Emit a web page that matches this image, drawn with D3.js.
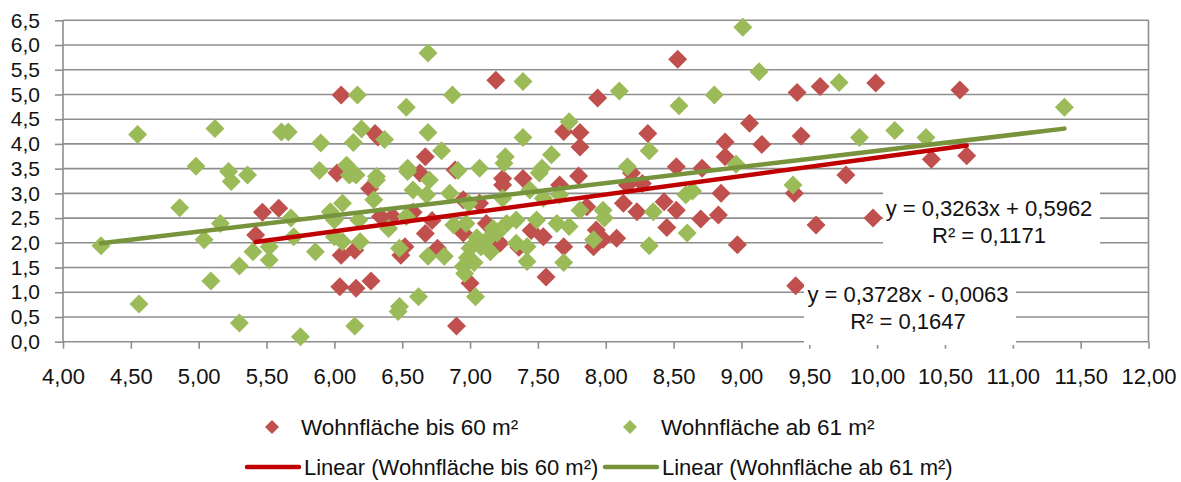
<!DOCTYPE html>
<html><head><meta charset="utf-8">
<script src="https://cdn.jsdelivr.net/npm/d3@7"></script>
<style>
body{margin:0;background:#fff;}
svg text{font-family:"Liberation Sans",Arial,sans-serif;fill:#111;}
</style></head><body>
<svg id="c" width="1181" height="482"></svg>
<script>
// ---------- data ----------
const seriesNames = ["Wohnfläche bis 60 m²", "Wohnfläche ab 61 m²"];
const trendNames = ["Linear (Wohnfläche bis 60 m²)", "Linear (Wohnfläche ab 61 m²)"];
const xTickValues = [4,4.5,5,5.5,6,6.5,7,7.5,8,8.5,9,9.5,10,10.5,11,11.5,12];
const yTickValues = [0,0.5,1,1.5,2,2.5,3,3.5,4,4.5,5,5.5,6,6.5];

const redPoints = [
[5.42,2.16],[5.47,2.62],[5.59,2.70],
[6.04,1.11],[6.05,4.99],[6.02,3.41],[6.05,1.75],[6.15,1.85],[6.16,1.08],[6.27,1.23],
[6.30,4.21],[6.32,4.14],[6.26,3.10],[6.34,2.53],[6.43,2.53],[6.40,2.42],
[6.49,1.75],[6.52,1.92],[6.58,2.62],[6.63,3.41],[6.67,3.74],[6.67,2.19],[6.76,1.89],[6.72,2.45],
[6.89,3.47],[6.90,0.32],[6.95,2.87],[6.95,2.20],[7.00,1.18],[7.07,2.80],[7.12,2.39],[7.22,1.99],
[7.19,5.29],[7.24,3.17],[7.24,3.30],[7.39,3.30],[7.36,1.91],[7.45,2.25],
[7.54,2.12],[7.56,1.31],[7.66,3.17],[7.69,1.92],[7.69,4.25],[7.80,3.35],[7.81,4.23],[7.81,3.94],
[7.86,2.73],[7.91,1.92],[7.93,2.26],[7.94,4.93],
[7.98,2.07],[8.08,2.09],[8.13,2.80],[8.16,3.17],[8.19,3.41],[8.23,2.63],[8.27,3.20],[8.31,4.21],
[8.43,2.83],[8.45,2.31],[8.52,2.66],[8.52,3.54],[8.53,5.71],[8.70,2.48],[8.71,3.51],[8.83,2.56],
[8.85,3.00],[8.88,3.74],[8.88,4.04],[8.97,1.96],[9.06,4.42],[9.15,3.99],[9.39,3.00],[9.40,1.13],
[9.41,5.04],[9.44,4.16],[9.55,2.36],[9.58,5.16],[9.77,3.37],[9.97,2.50],[9.99,5.23],[10.40,3.69],
[10.61,5.09],[10.66,3.76]
];

const greenPoints = [
[4.28,1.94],[4.55,4.19],[4.56,0.76],[4.86,2.71],[4.98,3.55],[5.04,2.06],[5.09,1.23],[5.12,4.31],
[5.16,2.39],[5.22,3.44],[5.24,3.24],[5.30,1.53],[5.30,0.38],[5.36,3.37],[5.40,1.82],[5.52,1.92],
[5.52,1.65],[5.61,4.24],[5.66,4.24],[5.68,2.50],[5.70,2.12],[5.75,0.10],[5.86,1.82],[5.89,3.46],
[5.90,4.02],[5.97,2.63],[6.00,2.12],[6.00,2.46],[6.06,2.80],[6.06,2.02],[6.09,3.57],[6.11,3.37],
[6.13,3.41],[6.14,4.03],[6.15,0.32],[6.16,3.37],[6.17,4.99],[6.18,2.46],[6.19,2.02],[6.20,4.30],
[6.29,2.87],[6.31,3.27],[6.31,3.34],[6.37,4.09],[6.40,2.29],[6.47,0.61],[6.48,0.71],[6.48,1.89],
[6.53,4.74],[6.53,2.53],[6.54,3.44],[6.54,3.51],[6.58,3.07],[6.62,0.91],[6.68,2.97],[6.69,5.84],
[6.69,4.23],[6.69,1.73],[6.70,3.27],[6.79,3.86],[6.81,1.73],[6.85,3.00],[6.87,4.99],[6.88,2.36],
[6.91,3.46],[6.95,1.52],[6.96,1.38],[6.97,2.39],[6.99,2.80],[7.00,1.89],[7.04,0.91],[7.07,3.51],
[7.08,1.92],[7.15,1.82],[7.17,2.29],[7.05,2.10],[7.12,2.05],[7.20,2.20],[6.98,1.70],[7.03,1.60],
[7.24,2.90],[7.25,3.61],[7.26,3.74],[7.27,2.39],[7.34,2.46],
[7.34,1.99],[7.39,4.13],[7.39,5.26],[7.42,1.92],[7.42,1.62],[7.44,3.07],[7.49,2.46],[7.51,3.41],
[7.53,3.51],[7.54,2.90],[7.60,3.78],[7.64,2.39],[7.66,2.97],[7.69,1.60],[7.73,4.45],[7.73,2.33],
[7.81,2.66],[7.91,2.06],[7.98,2.66],[7.99,2.50],[8.10,5.07],[8.16,3.54],[8.32,1.94],[8.32,3.86],
[8.35,2.63],[8.54,4.77],[8.59,2.97],[8.60,2.20],[8.64,3.05],[8.80,4.99],[8.96,3.59],[9.01,6.36],
[9.13,5.46],[9.38,3.17],[9.72,5.24],[9.87,4.13],[10.13,4.27],[10.36,4.13],[11.38,4.74]
];

const trendSlopes = [0.3728, 0.3263];
const trendIntercepts = [-0.0063, 0.5962];
const equationLines = [
  ["y = 0,3728x - 0,0063", "R² = 0,1647"],
  ["y = 0,3263x + 0,5962", "R² = 0,1171"]
];

// ---------- styles ----------
const markerColors = ["#C0504D", "#9BBB59"];
const trendColors = ["#C00000", "#77933C"];
const gridColor = "#8e8e8e";

// ---------- layout ----------
const svg = d3.select("#c");
const x = d3.scaleLinear().domain([4, 12]).range([63, 1148.5]);
const y = d3.scaleLinear().domain([0, 6.5]).range([341.7, 20.3]);
const fmtX = v => d3.format(".2f")(v).replace(".", ",");
const fmtY = v => d3.format(".1f")(v).replace(".", ",");
const diamond = r => `M0,${-r}L${r},0L0,${r}L${-r},0Z`;

// grid lines
svg.append("g").selectAll("line").data(yTickValues.filter(v => v > 0)).join("line")
  .attr("x1", x(4)).attr("x2", x(12))
  .attr("y1", d => y(d)).attr("y2", d => y(d))
  .attr("stroke", gridColor).attr("stroke-width", 1.6);

// right border
svg.append("line").attr("x1", x(12)).attr("x2", x(12)).attr("y1", y(6.5)).attr("y2", y(0))
  .attr("stroke", gridColor).attr("stroke-width", 1.6);

// axes
const yAxis = d3.axisLeft(y).tickValues(yTickValues).tickFormat(fmtY).tickSize(8).tickPadding(15);
const gy = svg.append("g").attr("transform", `translate(${x(4)},0)`).call(yAxis);
const xAxis = d3.axisBottom(x).tickValues(xTickValues).tickFormat(fmtX).tickSize(7).tickPadding(20);
const gx = svg.append("g").attr("transform", `translate(0,${y(0)})`).call(xAxis);
[gx, gy].forEach(g => {
  g.selectAll("path,line").attr("stroke", gridColor).attr("stroke-width", 1.6);
  g.selectAll("text").attr("fill", "#111")
   .style("font-family", '"Liberation Sans",Arial,sans-serif');
});
gx.selectAll("text").attr("font-size", 22);
gy.selectAll("text").attr("font-size", 21);
gy.select(".domain").remove();
gx.select(".domain").attr("d", `M${x(4)},0H${x(12)}`);
gy.append("line").attr("x1", 0).attr("x2", 0).attr("y1", y(6.5)).attr("y2", y(0))
  .attr("stroke", gridColor).attr("stroke-width", 1.6);

// points
const seriesPoints = [redPoints, greenPoints];
seriesPoints.forEach((pts, i) => {
  svg.append("g").selectAll("path").data(pts).join("path")
    .attr("d", diamond(9.5))
    .attr("transform", d => `translate(${x(d[0])},${y(d[1])})`)
    .attr("fill", markerColors[i]);
});

// trend lines
seriesPoints.forEach((pts, i) => {
  const ext = d3.extent(pts, d => d[0]);
  const f = v => trendSlopes[i] * v + trendIntercepts[i];
  svg.append("line")
    .attr("x1", x(ext[0])).attr("y1", y(f(ext[0])))
    .attr("x2", x(ext[1])).attr("y2", y(f(ext[1])))
    .attr("stroke", trendColors[i]).attr("stroke-width", 4.5).attr("stroke-linecap", "round");
});

// equation labels
const eqBoxes = [
  {x0: 804, x1: 1016, y0: 276, y1: 345, cx: 908, b1: 302, b2: 329},
  {x0: 883, x1: 1100, y0: 186, y1: 254, cx: 989, b1: 216, b2: 243}
];
eqBoxes.forEach((b, i) => {
  svg.append("rect").attr("x", b.x0).attr("y", b.y0).attr("width", b.x1 - b.x0).attr("height", b.y1 - b.y0)
    .attr("fill", "#fff");
  svg.append("text").attr("x", b.cx).attr("y", b.b1).attr("text-anchor", "middle").attr("font-size", 22)
    .text(equationLines[i][0]);
  svg.append("text").attr("x", b.cx).attr("y", b.b2).attr("text-anchor", "middle").attr("font-size", 22)
    .text(equationLines[i][1]);
});

// legend
const legMarkers = [{cx: 272, tx: 301}, {cx: 630, tx: 661}];
legMarkers.forEach((l, i) => {
  svg.append("path").attr("d", diamond(7)).attr("transform", `translate(${l.cx},427)`).attr("fill", markerColors[i]);
  svg.append("text").attr("x", l.tx).attr("y", 435).attr("font-size", 22.5).text(seriesNames[i]);
});
const legLines = [{x0: 247, x1: 299, tx: 304}, {x0: 605, x1: 657, tx: 662}];
legLines.forEach((l, i) => {
  svg.append("line").attr("x1", l.x0).attr("x2", l.x1).attr("y1", 467).attr("y2", 467)
    .attr("stroke", trendColors[i]).attr("stroke-width", 4.5).attr("stroke-linecap", "round");
  svg.append("text").attr("x", l.tx).attr("y", 475).attr("font-size", 22).text(trendNames[i]);
});
</script>
</body></html>
